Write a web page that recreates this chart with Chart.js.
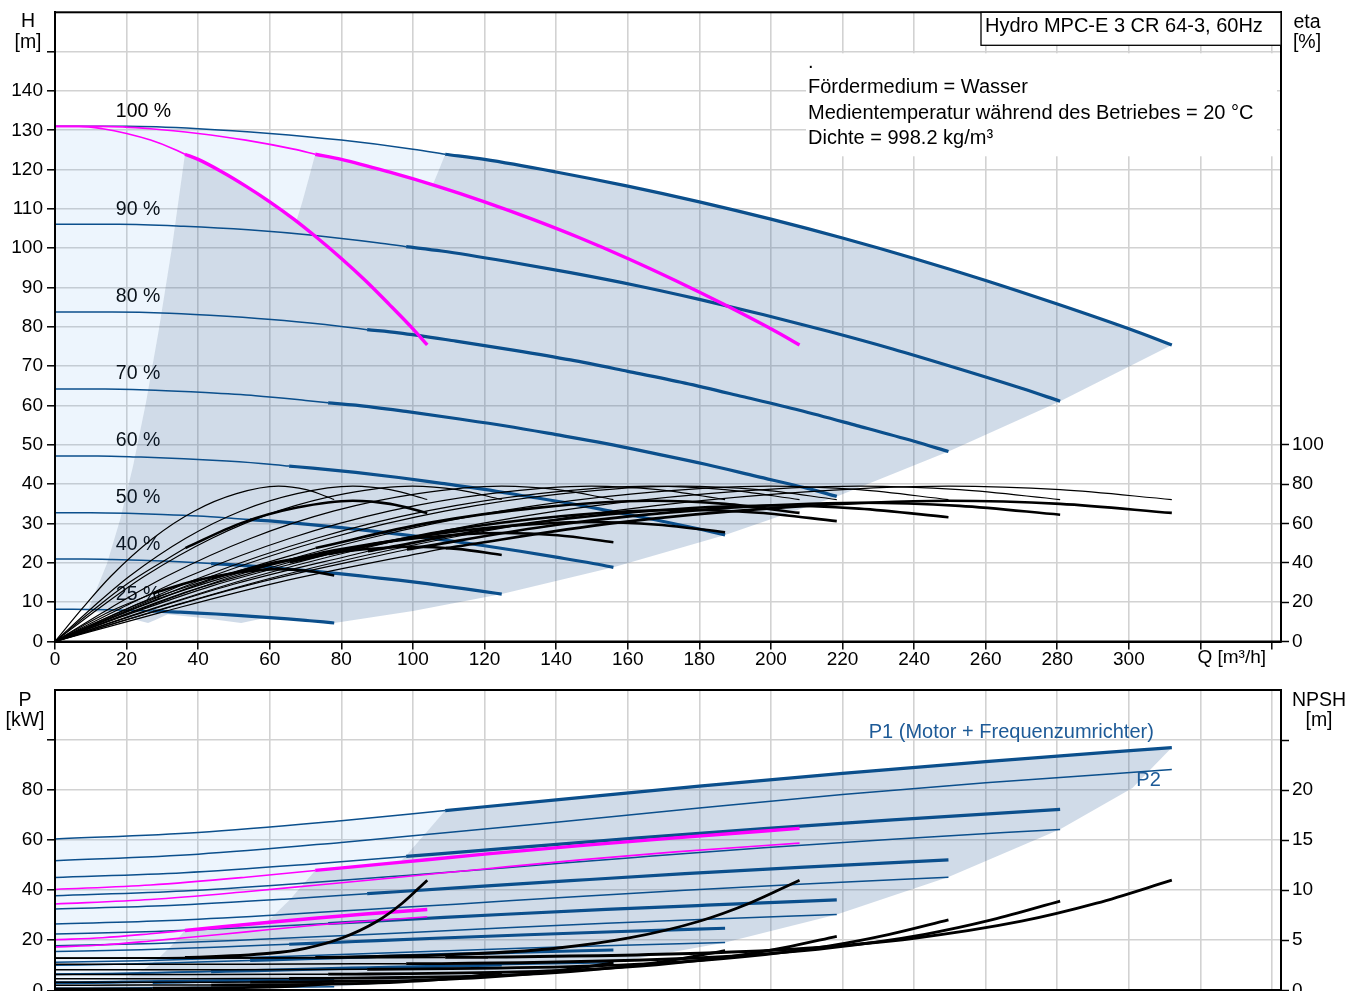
<!DOCTYPE html>
<html>
<head>
<meta charset="utf-8">
<title>Hydro MPC-E 3 CR 64-3, 60Hz</title>
<script src="https://cdn.jsdelivr.net/npm/chart.js@4.4.1/dist/chart.umd.min.js"></script>
<style>
  html, body { margin: 0; padding: 0; background: #fff; }
  #page { position: relative; width: 1360px; height: 991px; overflow: hidden; background: #fff; }
  canvas { position: absolute; left: 0; }
  #headChart { top: 0; }
  #powerChart { top: 660px; }
</style>
</head>
<body>
<div id="page">
  <canvas id="headChart" width="1360" height="680"></canvas>
  <canvas id="powerChart" width="1360" height="380"></canvas>
</div>
<script>
// ---------- Texte ----------
const chartTitle = 'Hydro MPC-E 3 CR 64-3, 60Hz';
const infoLines = ['.', 'Fördermedium = Wasser', 'Medientemperatur während des Betriebes = 20 °C', 'Dichte = 998.2 kg/m³'];
const speedLabels = ['100 %', '90 %', '80 %', '70 %', '60 %', '50 %', '40 %', '25 %'];
const p1Label = 'P1 (Motor + Frequenzumrichter)';
const p2Label = 'P2';

// ---------- Förderhöhe H [m] über Q [m³/h], 3 Pumpen, je Drehzahl ----------
// dünner Abschnitt (unterhalb Mindestförderstrom)
const headThinQ = [
  [0, 20, 40, 60, 80, 100, 109],
  [0, 18, 36, 54, 72, 90, 98.1],
  [0, 16, 32, 48, 64, 80, 87.2],
  [0, 14, 28, 42, 56, 70, 76.3],
  [0, 12, 24, 36, 48, 60, 65.4],
  [0, 10, 20, 30, 40, 50, 54.5],
  [0, 8, 16, 24, 32, 40, 43.6],
  [0, 5, 10, 15, 20, 25, 27.3]
];
const headThinH = [
  [131, 131, 130.4, 129.2, 127.5, 125.2, 123.9],
  [106.1, 106.1, 105.6, 104.7, 103.3, 101.4, 100.4],
  [83.8, 83.8, 83.5, 82.7, 81.6, 80.1, 79.3],
  [64.2, 64.2, 63.9, 63.3, 62.5, 61.3, 60.7],
  [47.2, 47.2, 46.9, 46.5, 45.9, 45.1, 44.6],
  [32.75, 32.75, 32.6, 32.3, 31.9, 31.3, 31.0],
  [20.96, 20.96, 20.86, 20.67, 20.4, 20.03, 19.82],
  [8.19, 8.19, 8.15, 8.08, 7.97, 7.83, 7.74]
];
// dicker Abschnitt (Betriebsbereich)
const headThickQ = [
  [109, 120, 140, 160, 180, 200, 220, 240, 260, 280, 300, 312],
  [98.1, 108, 126, 144, 162, 180, 198, 216, 234, 252, 270, 280.8],
  [87.2, 96, 112, 128, 144, 160, 176, 192, 208, 224, 240, 249.6],
  [76.3, 84, 98, 112, 126, 140, 154, 168, 182, 196, 210, 218.4],
  [65.4, 72, 84, 96, 108, 120, 132, 144, 156, 168, 180, 187.2],
  [54.5, 60, 70, 80, 90, 100, 110, 120, 130, 140, 150, 156],
  [43.6, 48, 56, 64, 72, 80, 88, 96, 104, 112, 120, 124.8],
  [27.3, 30, 35, 40, 45, 50, 55, 60, 65, 70, 75, 78]
];
const headThickH = [
  [123.9, 122.6, 119.4, 115.8, 111.8, 107.4, 102.6, 97.4, 91.8, 85.8, 79.5, 75.4],
  [100.4, 99.3, 96.7, 93.8, 90.6, 87.0, 83.1, 78.9, 74.4, 69.5, 64.4, 61.1],
  [79.3, 78.5, 76.4, 74.1, 71.6, 68.7, 65.7, 62.3, 58.8, 54.9, 50.9, 48.3],
  [60.7, 60.1, 58.5, 56.7, 54.8, 52.6, 50.3, 47.7, 45.0, 42.0, 39.0, 36.9],
  [44.6, 44.1, 43.0, 41.7, 40.2, 38.7, 36.9, 35.1, 33.0, 30.9, 28.6, 27.1],
  [31.0, 30.65, 29.85, 28.95, 27.95, 26.85, 25.65, 24.35, 22.95, 21.45, 19.9, 18.85],
  [19.82, 19.6, 19.1, 18.5, 17.9, 17.2, 16.4, 15.6, 14.7, 13.7, 12.7, 12.06],
  [7.74, 7.66, 7.46, 7.24, 6.99, 6.71, 6.41, 6.09, 5.74, 5.36, 4.97, 4.71]
];

// 1 und 2 Pumpen bei 100 % (magenta)
const pinkThinQ = [
  [0, 6.7, 13.3, 20, 26.7, 33.3, 36.3],
  [0, 13.3, 26.7, 40, 53.3, 66.7, 72.7]
];
const pinkThinH = [131, 131, 130.4, 129.2, 127.5, 125.2, 123.9];
const pinkThickQ = [
  [36.3, 40, 46.7, 53.3, 60, 66.7, 73.3, 80, 86.7, 93.3, 100, 104],
  [72.7, 80, 93.3, 106.7, 120, 133.3, 146.7, 160, 173.3, 186.7, 200, 208]
];
const pinkThickH = [123.9, 122.6, 119.4, 115.8, 111.8, 107.4, 102.6, 97.4, 91.8, 85.8, 79.5, 75.4];

// Wirkungsgrad eta [%] (rechte Achse); Kurven enden bei 78 ... 312 m³/h
const etaQ = [
  [0, 7.8, 15.6, 27.3, 39, 50.7, 62.4, 70.2, 78],
  [0, 10.4, 20.8, 36.4, 52, 67.6, 83.2, 93.6, 104],
  [0, 12.5, 25, 43.7, 62.4, 81.1, 99.8, 112.3, 124.8],
  [0, 15.6, 31.2, 54.6, 78, 101.4, 124.8, 140.4, 156],
  [0, 18.7, 37.4, 65.5, 93.6, 121.7, 149.8, 168.5, 187.2],
  [0, 20.8, 41.6, 72.8, 104, 135.2, 166.4, 187.2, 208],
  [0, 21.8, 43.7, 76.4, 109.2, 142, 174.7, 196.6, 218.4],
  [0, 25, 49.9, 87.4, 124.8, 162.2, 199.7, 224.6, 249.6],
  [0, 28.1, 56.2, 98.3, 140.4, 182.5, 224.6, 252.7, 280.8],
  [0, 31.2, 62.4, 109.2, 156, 202.8, 249.6, 280.8, 312]
];
const etaPump = [0, 17.2, 33.2, 52.4, 66.4, 75.2, 79.0, 77.2, 72.2];
const etaTotal = [
  [0, 8.0, 15.5, 24.4, 30.9, 35.0, 36.8, 36.0, 33.6],
  [0, 15.6, 30.1, 47.5, 60.2, 68.1, 71.6, 70.0, 65.4],
  [0, 10.5, 20.3, 32.0, 40.5, 45.9, 48.2, 47.1, 44.0],
  [0, 12.0, 23.2, 36.6, 46.4, 52.6, 55.2, 54.0, 50.5],
  [0, 13.2, 25.6, 40.3, 51.1, 57.9, 60.8, 59.4, 55.6],
  [0, 15.6, 30.1, 47.5, 60.2, 68.1, 71.6, 70.0, 65.4],
  [0, 14.6, 28.2, 44.4, 56.3, 63.8, 67.0, 65.5, 61.2],
  [0, 15.1, 29.1, 45.9, 58.2, 65.9, 69.2, 67.6, 63.2],
  [0, 15.4, 29.7, 46.8, 59.4, 67.2, 70.6, 69.0, 64.5],
  [0, 15.6, 30.1, 47.5, 60.2, 68.1, 71.6, 70.0, 65.4]
];

// Betriebsbereich (dunkel) und Gesamtbereich (hell) im H-Q-Diagramm, [Q, H]
const headRegion = [
  [9.1, 7.74], [14.5, 19.8], [18.2, 31], [21.8, 44.6], [25.4, 60.7], [29, 79.3], [32.7, 100.4], [36.3, 123.9],
  [40, 122.6], [46.7, 119.4], [53.3, 115.8], [60, 111.8], [67.5, 107.1], [69.1, 111.8], [70.9, 117.8], [72.7, 123.9],
  [80, 122.6], [93.3, 119.4], [100, 117.6], [105.5, 116.1], [107.3, 120], [109, 123.9],
  [120, 122.6], [140, 119.4], [160, 115.8], [180, 111.8], [200, 107.4], [220, 102.6], [240, 97.4], [260, 91.8],
  [280, 85.8], [300, 79.5], [312, 75.4],
  [280.8, 61.1], [249.6, 48.3], [218.4, 36.9], [187.2, 27.1], [156, 18.85], [124.8, 12.06], [100, 7.75], [78, 4.71],
  [75, 4.97], [70, 5.36], [65, 5.74], [59, 6.1], [58, 5.86], [56, 5.47], [54, 5.08], [52, 4.71],
  [46.7, 5.36], [40, 6.09], [33.3, 6.71], [31.5, 6.92], [30, 6.27], [28, 5.47], [26, 4.71],
  [23.3, 5.36], [20, 6.09], [16.7, 6.71], [13.3, 7.24], [9.1, 7.74]
];
const headEnvelope = [
  [0, 8.19], [0, 131], [20, 131], [40, 130.4], [60, 129.2], [80, 127.5], [100, 125.2], [109, 123.9],
  [107.3, 120], [105.5, 116.1], [100, 117.6], [93.3, 119.4], [80, 122.6], [72.7, 123.9],
  [70.9, 117.8], [69.1, 111.8], [67.5, 107.1], [60, 111.8], [53.3, 115.8], [46.7, 119.4], [40, 122.6], [36.3, 123.9],
  [32.7, 100.4], [29, 79.3], [25.4, 60.7], [21.8, 44.6], [18.2, 31], [14.5, 19.8], [9.1, 7.74], [5, 8.19]
];

// ---------- Leistung P [kW] über Q, 3 Pumpen, je Drehzahl ----------
const powerQ = [
  [0, 40, 80, 109, 140, 180, 220, 260, 312],
  [0, 36, 72, 98.1, 126, 162, 198, 234, 280.8],
  [0, 32, 64, 87.2, 112, 144, 176, 208, 249.6],
  [0, 28, 56, 76.3, 98, 126, 154, 182, 218.4],
  [0, 24, 48, 65.4, 84, 108, 132, 156, 187.2],
  [0, 20, 40, 54.5, 70, 90, 110, 130, 156],
  [0, 16, 32, 43.6, 56, 72, 88, 104, 124.8],
  [0, 10, 20, 27.3, 35, 45, 55, 65, 78]
];
const powerP1 = [
  [60.5, 63.1, 67.8, 71.8, 76.1, 81.6, 86.7, 91.4, 97.0],
  [45.1, 47.0, 50.5, 53.5, 56.7, 60.8, 64.6, 68.1, 72.3],
  [32.5, 33.9, 36.4, 38.6, 40.9, 43.8, 46.6, 49.1, 52.1],
  [22.5, 23.5, 25.2, 26.7, 28.3, 30.4, 32.3, 34.0, 36.1],
  [15.5, 16.2, 17.4, 18.4, 19.5, 20.9, 22.2, 23.4, 24.8],
  [10.0, 10.5, 11.3, 11.9, 12.6, 13.5, 14.4, 15.2, 16.1],
  [6.3, 6.6, 7.1, 7.5, 7.9, 8.5, 9.0, 9.5, 10.1],
  [2.7, 2.8, 3.1, 3.2, 3.4, 3.7, 3.9, 4.1, 4.4]
];
const powerP2 = [
  [51.8, 54.4, 59.1, 63.0, 67.2, 72.8, 78.2, 82.9, 88.2],
  [37.8, 39.7, 43.1, 45.9, 49.0, 53.1, 57.0, 60.4, 64.3],
  [26.5, 27.9, 30.3, 32.3, 34.4, 37.3, 40.0, 42.4, 45.2],
  [17.8, 18.7, 20.3, 21.6, 23.0, 25.0, 26.8, 28.4, 30.3],
  [11.2, 11.8, 12.8, 13.6, 14.5, 15.7, 16.9, 17.9, 19.1],
  [6.5, 6.8, 7.4, 7.9, 8.4, 9.1, 9.8, 10.4, 11.0],
  [3.3, 3.5, 3.8, 4.0, 4.3, 4.7, 5.0, 5.3, 5.6],
  [0.8, 0.85, 0.92, 0.98, 1.05, 1.14, 1.22, 1.29, 1.38]
];
// 1 und 2 Pumpen bei 100 % (magenta)
const pinkPowerQ = [
  [0, 13.3, 26.7, 36.3, 46.7, 60, 73.3, 86.7, 104],
  [0, 26.7, 53.3, 72.7, 93.3, 120, 146.7, 173.3, 208]
];
const pinkPowerP1 = [
  [20.2, 21.0, 22.6, 23.9, 25.4, 27.2, 28.9, 30.5, 32.3],
  [40.3, 42.1, 45.2, 47.9, 50.7, 54.4, 57.8, 60.9, 64.7]
];
const pinkPowerP2 = [
  [17.3, 18.1, 19.7, 21.0, 22.4, 24.3, 26.1, 27.6, 29.4],
  [34.5, 36.3, 39.4, 42.0, 44.8, 48.5, 52.1, 55.3, 58.8]
];

// NPSH [m] (rechte Achse): 8 Drehzahlen mit 3 Pumpen, dann 1 und 2 Pumpen bei 100 %
const npshQ = [
  [0, 60, 109, 120, 180, 210, 240, 270, 291, 312],
  [0, 54, 98.1, 108, 162, 189, 216, 243, 261.9, 280.8],
  [0, 48, 87.2, 96, 144, 168, 192, 216, 232.8, 249.6],
  [0, 42, 76.3, 84, 126, 147, 168, 189, 203.7, 218.4],
  [0, 36, 65.4, 72, 108, 126, 144, 162, 174.6, 187.2],
  [0, 30, 54.5, 60, 90, 105, 120, 135, 145.5, 156],
  [0, 24, 43.6, 48, 72, 84, 96, 108, 116.4, 124.8],
  [0, 15, 27.3, 30, 45, 52.5, 60, 67.5, 72.8, 78],
  [0, 20, 36.3, 40, 60, 70, 80, 90, 97, 104],
  [0, 40, 72.7, 80, 120, 140, 160, 180, 194, 208]
];
const npshM = [
  [3.2, 3.22, 3.28, 3.3, 3.7, 4.2, 5.2, 6.9, 8.7, 11],
  [2.59, 2.61, 2.66, 2.67, 3.0, 3.4, 4.21, 5.59, 7.05, 8.91],
  [2.05, 2.06, 2.1, 2.11, 2.37, 2.69, 3.33, 4.42, 5.57, 7.04],
  [1.57, 1.58, 1.61, 1.62, 1.81, 2.06, 2.55, 3.38, 4.26, 5.39],
  [1.15, 1.16, 1.18, 1.19, 1.33, 1.51, 1.87, 2.48, 3.13, 3.96],
  [0.8, 0.81, 0.82, 0.83, 0.93, 1.05, 1.3, 1.73, 2.18, 2.75],
  [0.51, 0.52, 0.52, 0.53, 0.59, 0.67, 0.83, 1.1, 1.39, 1.76],
  [0.2, 0.2, 0.21, 0.21, 0.23, 0.26, 0.33, 0.43, 0.54, 0.69],
  [3.2, 3.22, 3.28, 3.3, 3.7, 4.2, 5.2, 6.9, 8.7, 11],
  [3.2, 3.22, 3.28, 3.3, 3.7, 4.2, 5.2, 6.9, 8.7, 11]
];

// Betriebsbereich (dunkel) und Gesamtbereich (hell) im P-Q-Diagramm, [Q, P]
const powerRegion = [
  [9.1, 1.2], [14.5, 2.5], [18.2, 4.0], [21.8, 6.2], [25.4, 8.9], [29, 12.9], [32.7, 18.1], [36.3, 23.9],
  [46.7, 25.4], [59, 27.1], [65.4, 35.9], [72.7, 47.9], [80, 48.9], [93.3, 50.7], [96.3, 51.1],
  [98.1, 53.9], [103.6, 62.9], [109, 71.8],
  [120, 73.3], [140, 76.1], [160, 78.9], [180, 81.6], [200, 84.2], [220, 86.7], [240, 89.1], [260, 91.4],
  [280, 93.6], [300, 95.7], [312, 97],
  [301, 80.8], [280.8, 64.4], [249.6, 45.3], [218.4, 30.3], [187.2, 19.1], [156, 11.0], [124.8, 5.6], [78, 1.4],
  [40, 0.9], [9.1, 1.2]
];
const powerEnvelope = [
  [0, 0], [0, 60.5], [20, 61.6], [40, 63.1], [60, 65.2], [80, 67.8], [100, 70.5], [109, 71.8],
  [103.6, 62.9], [98.1, 53.9], [96.3, 51.1], [93.3, 50.7], [80, 48.9], [72.7, 47.9], [65.4, 35.9],
  [59, 27.1], [46.7, 25.4], [36.3, 23.9], [32.7, 18.1], [29, 12.9], [25.4, 8.9], [21.8, 6.2],
  [18.2, 4.0], [14.5, 2.5], [9.1, 1.2]
];

// ---------- Stil ----------
const FONT = '"Liberation Sans", Arial, Helvetica, sans-serif';
const BLUE = '#0b4f8c';
const PINK = '#ff00ff';
const BLACK = '#000000';
const LABEL_BLUE = '#1d5a97';
const GRID = '#d2d2d2';
const FILL_DARK = 'rgba(40, 90, 150, 0.22)';
const FILL_LIGHT = 'rgba(80, 160, 240, 0.10)';

Chart.defaults.font.family = FONT;
Chart.defaults.font.size = 19;
Chart.defaults.color = '#000';

function pts(qs, vs) { return qs.map((q, i) => ({ x: q, y: vs[i] })); }
function pairs(list) { return list.map(p => ({ x: p[0], y: p[1] })); }
function curve(data, color, width, axis, order) {
  return {
    data, yAxisID: axis, borderColor: color, borderWidth: width, pointRadius: 0,
    fill: false, cubicInterpolationMode: 'monotone', order
  };
}
function area(data, color, order) {
  return {
    data, yAxisID: 'y', backgroundColor: color, borderColor: 'rgba(0,0,0,0)', borderWidth: 0,
    pointRadius: 0, fill: 'shape', tension: 0, order
  };
}
function text(ctx, str, x, y, align, color) {
  ctx.fillStyle = color || '#000';
  ctx.textAlign = align || 'left';
  ctx.textBaseline = 'middle';
  ctx.fillText(str, x, y);
}

// ---------- Datensätze H-Q ----------
const headSets = [];
headSets.push(area(pairs(headEnvelope), FILL_LIGHT, 9));
headSets.push(area(pairs(headRegion), FILL_DARK, 8));
for (let i = 0; i < headThinQ.length; i++) {
  headSets.push(curve(pts(headThinQ[i], headThinH[i]), BLUE, 1.5, 'y', 3));
  headSets.push(curve(pts(headThickQ[i], headThickH[i]), BLUE, 3.2, 'y', 3));
}
for (let i = 0; i < pinkThinQ.length; i++) {
  headSets.push(curve(pts(pinkThinQ[i], pinkThinH), PINK, 1.6, 'y', 2));
  headSets.push(curve(pts(pinkThickQ[i], pinkThickH), PINK, 3.4, 'y', 2));
}
for (let i = 0; i < etaQ.length; i++) {
  headSets.push(curve(pts(etaQ[i], etaPump), BLACK, 1.2, 'y2', 1));
  headSets.push(curve(pts(etaQ[i].slice(0, 4), etaTotal[i].slice(0, 4)), BLACK, 1.2, 'y2', 1));
  headSets.push(curve(pts(etaQ[i].slice(3), etaTotal[i].slice(3)), BLACK, 2.6, 'y2', 1));
}

// ---------- Datensätze P-Q ----------
const powerSets = [];
powerSets.push(area(pairs(powerEnvelope), FILL_LIGHT, 9));
powerSets.push(area(pairs(powerRegion), FILL_DARK, 8));
for (let i = 0; i < powerQ.length; i++) {
  powerSets.push(curve(pts(powerQ[i].slice(0, 4), powerP1[i].slice(0, 4)), BLUE, 1.5, 'y', 3));
  powerSets.push(curve(pts(powerQ[i].slice(3), powerP1[i].slice(3)), BLUE, 3.2, 'y', 3));
  powerSets.push(curve(pts(powerQ[i], powerP2[i]), BLUE, 1.5, 'y', 3));
}
for (let i = 0; i < pinkPowerQ.length; i++) {
  powerSets.push(curve(pts(pinkPowerQ[i].slice(0, 4), pinkPowerP1[i].slice(0, 4)), PINK, 1.6, 'y', 2));
  powerSets.push(curve(pts(pinkPowerQ[i].slice(3), pinkPowerP1[i].slice(3)), PINK, 3.4, 'y', 2));
  powerSets.push(curve(pts(pinkPowerQ[i], pinkPowerP2[i]), PINK, 1.6, 'y', 2));
}
for (let i = 0; i < npshQ.length; i++) {
  powerSets.push(curve(pts(npshQ[i].slice(0, 3), npshM[i].slice(0, 3)), BLACK, 1.5, 'y2', 1));
  powerSets.push(curve(pts(npshQ[i].slice(2), npshM[i].slice(2)), BLACK, 2.8, 'y2', 1));
}

// ---------- Achsen ----------
function flowAxis(height) {
  return {
    type: 'linear', min: 0, max: 342.5,
    ticks: {
      stepSize: 20, includeBounds: false, autoSkip: false, maxRotation: 0, padding: -1,
      callback: v => (v <= 300 ? String(v) : '')
    },
    grid: { color: GRID, lineWidth: 1.6, tickColor: '#000', tickLength: 8, tickWidth: 1.5 },
    border: { color: '#000', width: 2 },
    afterFit: s => { s.height = height; s.paddingLeft = 0; s.paddingRight = 0; }
  };
}
function leftAxis(max, step, tickMax, labelMax) {
  return {
    type: 'linear', position: 'left', min: 0, max,
    ticks: { stepSize: step, padding: 4, callback: v => (v <= labelMax ? String(v) : '') },
    grid: { color: GRID, lineWidth: 1.6, tickColor: '#000', tickLength: 8, tickWidth: 1.5 },
    border: { color: '#000', width: 2 },
    afterBuildTicks: s => { s.ticks = s.ticks.filter(t => t.value <= tickMax); },
    afterFit: s => { s.width = 55; s.paddingTop = 0; s.paddingBottom = 0; }
  };
}
function rightAxis(max, step, tickMax, labelMax) {
  return {
    type: 'linear', position: 'right', min: 0, max,
    ticks: { stepSize: step, padding: 3, callback: v => (v <= labelMax ? String(v) : '') },
    grid: { drawOnChartArea: false, tickColor: '#000', tickLength: 8, tickWidth: 1.5 },
    border: { color: '#000', width: 2 },
    afterBuildTicks: s => { s.ticks = s.ticks.filter(t => t.value <= tickMax); },
    afterFit: s => { s.width = 79; s.paddingTop = 0; s.paddingBottom = 0; }
  };
}

// ---------- Beschriftungen ----------
const headDecor = {
  id: 'headDecor',
  beforeDatasetsDraw(chart) {
    const { ctx, chartArea: a, scales: { x, y } } = chart;
    ctx.save();
    ctx.fillStyle = '#fff';
    ctx.fillRect(a.right - 475, a.top + 41, 471, 103);
    ctx.font = '19.5px ' + FONT;
    speedLabels.forEach((s, i) => {
      text(ctx, s, x.getPixelForValue(17), y.getPixelForValue(headThinH[i][0] + 3.8));
    });
    ctx.restore();
  },
  afterDraw(chart) {
    const { ctx, chartArea: a, scales: { x } } = chart;
    ctx.save();
    ctx.strokeStyle = '#000';
    ctx.lineWidth = 2;
    ctx.strokeRect(a.left, a.top, a.right - a.left, a.bottom - a.top);
    ctx.font = '20px ' + FONT;
    ctx.fillStyle = '#fff';
    ctx.fillRect(a.right - 300, a.top, 300, 33);
    ctx.lineWidth = 1.3;
    ctx.strokeRect(a.right - 300, a.top, 300, 33);
    text(ctx, chartTitle, a.right - 296, a.top + 14.5);
    infoLines.forEach((s, i) => text(ctx, s, a.right - 473, a.top + 50 + i * 25.5));
    ctx.font = '19.5px ' + FONT;
    text(ctx, 'H', 28, 22, 'center');
    text(ctx, '[m]', 28, 42.5, 'center');
    text(ctx, 'eta', 1307, 23, 'center');
    text(ctx, '[%]', 1307, 42.5, 'center');
    ctx.font = '19px ' + FONT;
    text(ctx, 'Q [m³/h]', x.getPixelForValue(320) - 3, a.bottom + 16.5);
    ctx.restore();
  }
};

const powerDecor = {
  id: 'powerDecor',
  afterDraw(chart) {
    const { ctx, chartArea: a, scales: { x, y } } = chart;
    ctx.save();
    ctx.strokeStyle = '#000';
    ctx.lineWidth = 2;
    ctx.strokeRect(a.left, a.top, a.right - a.left, a.bottom - a.top);
    ctx.font = '19.5px ' + FONT;
    text(ctx, 'P', 25, 40.5, 'center');
    text(ctx, '[kW]', 25, 61, 'center');
    text(ctx, 'NPSH', 1319, 40.5, 'center');
    text(ctx, '[m]', 1319, 61, 'center');
    ctx.font = '20px ' + FONT;
    const qEnd = powerQ[0][powerQ[0].length - 1];
    text(ctx, p1Label, x.getPixelForValue(qEnd) - 18, y.getPixelForValue(powerP1[0][powerP1[0].length - 1]) - 15.5, 'right', LABEL_BLUE);
    text(ctx, p2Label, x.getPixelForValue(qEnd) - 11, y.getPixelForValue(powerP2[0][powerP2[0].length - 1]) + 11, 'right', LABEL_BLUE);
    ctx.restore();
  }
};

const common = {
  responsive: false, animation: false, devicePixelRatio: 1, events: [],
  plugins: { legend: { display: false }, tooltip: { enabled: false } }
};

new Chart(document.getElementById('headChart'), {
  type: 'line',
  data: { datasets: headSets },
  options: Object.assign({}, common, {
    layout: { padding: { top: 12.3, left: 0, right: 0, bottom: 0 } },
    scales: {
      x: flowAxis(38.5),
      y: leftAxis(160, 10, 150, 140),
      y2: rightAxis(320, 20, 100, 100)
    }
  }),
  plugins: [headDecor]
});

new Chart(document.getElementById('powerChart'), {
  type: 'line',
  data: { datasets: powerSets },
  options: Object.assign({}, common, {
    layout: { padding: { top: 30, left: 0, right: 0, bottom: 0 } },
    scales: {
      x: flowAxis(49.7),
      y: leftAxis(120, 20, 100, 80),
      y2: rightAxis(30, 5, 25, 20)
    }
  }),
  plugins: [powerDecor]
});
</script>
</body>
</html>
